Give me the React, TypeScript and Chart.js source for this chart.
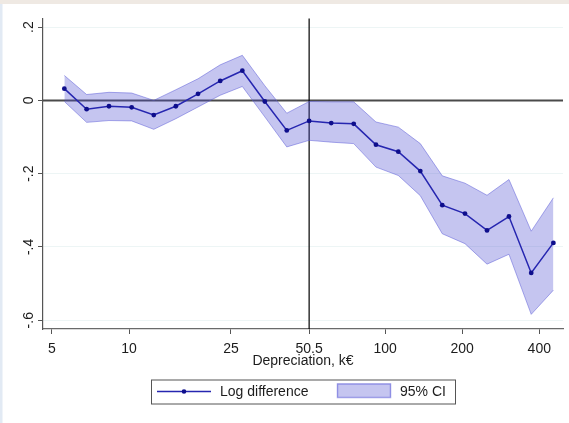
import React, { useEffect, useRef } from "react";
import { Chart, registerables } from "chart.js";

Chart.register(...registerables);

// Depreciation (k€), log scale
const xValues = [5.59, 6.83, 8.35, 10.24, 12.49, 15.23, 18.6, 22.7, 27.7, 33.9, 41.3, 50.5, 61.6, 75.4, 92.1, 112.6, 137.2, 167.2, 205, 250, 304.5, 372, 454];
const logDiff = [0.032, -0.024, -0.016, -0.019, -0.04, -0.016, 0.018, 0.053, 0.081, -0.003, -0.082, -0.056, -0.062, -0.064, -0.121, -0.14, -0.193, -0.286, -0.309, -0.355, -0.317, -0.471, -0.389];
const ciUpper = [0.068, 0.016, 0.022, 0.02, 0.0, 0.029, 0.059, 0.097, 0.123, 0.04, -0.035, -0.003, -0.004, -0.004, -0.059, -0.073, -0.118, -0.206, -0.226, -0.259, -0.216, -0.357, -0.266];
const ciLower = [-0.003, -0.06, -0.055, -0.056, -0.079, -0.05, -0.018, 0.014, 0.038, -0.045, -0.127, -0.109, -0.114, -0.118, -0.182, -0.205, -0.26, -0.364, -0.391, -0.447, -0.42, -0.584, -0.518];

const xTickValues = [5, 10, 25, 50.5, 100, 200, 400];
const xTickLabels = ["5", "10", "25", "50.5", "100", "200", "400"];
const yTickValues = [-0.6, -0.4, -0.2, 0, 0.2];
const yTickLabels = ["-.6", "-.4", "-.2", "0", ".2"];
const xTitle = "Depreciation, k€";
const lineLabel = "Log difference";
const bandLabel = "95% CI";
const xLineValue = 50.5;
const yLineValue = 0;

const FONT = '"Liberation Sans", Arial, Helvetica, sans-serif';
const TEXT = "#1c1c1c";
const LINE = "#2626b0";
const POINT = "#0e0e8c";
const BAND_FILL = "rgba(80,80,210,0.33)";
const BAND_EDGE = "rgba(90,90,215,0.5)";

export default function App() {
  const ref = useRef<HTMLCanvasElement | null>(null);

  useEffect(() => {
    document.body.style.margin = "0";
    const canvas = ref.current;
    if (!canvas) return;

    const custom = {
      id: "custom",
      beforeDraw(chart: any) {
        const ctx = chart.ctx;
        ctx.save();
        ctx.fillStyle = "#ffffff";
        ctx.fillRect(0, 0, chart.width, chart.height);
        ctx.fillStyle = "#efe9e3";
        ctx.fillRect(0, 0, chart.width, 4);
        ctx.fillStyle = "#e2eaf4";
        ctx.fillRect(0, 4, 2.5, chart.height - 4);
        ctx.restore();
      },
      beforeDatasetsDraw(chart: any) {
        const ctx = chart.ctx;
        const a = chart.chartArea;
        const xs = chart.scales.x;
        const ys = chart.scales.y;
        ctx.save();
        const y0 = ys.getPixelForValue(yLineValue);
        ctx.strokeStyle = "#4a4a4a";
        ctx.lineWidth = 2;
        ctx.beginPath();
        ctx.moveTo(a.left, y0);
        ctx.lineTo(a.right, y0);
        ctx.stroke();
        const x0 = xs.getPixelForValue(xLineValue);
        ctx.strokeStyle = "#000000";
        ctx.lineWidth = 1.2;
        ctx.beginPath();
        ctx.moveTo(x0, a.top);
        ctx.lineTo(x0, a.bottom);
        ctx.stroke();
        ctx.restore();
      },
      afterDraw(chart: any) {
        const ctx = chart.ctx;
        const a = chart.chartArea;
        const xs = chart.scales.x;
        const ys = chart.scales.y;
        ctx.save();
        ctx.fillStyle = TEXT;
        ctx.font = `14px ${FONT}`;
        // y tick labels, rotated
        yTickValues.forEach((v, i) => {
          const py = ys.getPixelForValue(v);
          ctx.save();
          ctx.translate(33, py);
          ctx.rotate(-Math.PI / 2);
          ctx.textAlign = "center";
          ctx.textBaseline = "alphabetic";
          ctx.fillText(yTickLabels[i], 0, 0);
          ctx.restore();
        });
        // x tick labels
        ctx.textAlign = "center";
        ctx.textBaseline = "alphabetic";
        xTickValues.forEach((v, i) => {
          const px = xs.getPixelForValue(v);
          ctx.fillText(xTickLabels[i], px, a.bottom + 23.5);
        });
        // x title
        ctx.fillText(xTitle, (a.left + a.right) / 2, a.bottom + 36);
        // legend
        const lx = 151, ly = 379.5, lw = 304, lh = 24;
        ctx.fillStyle = "#ffffff";
        ctx.fillRect(lx, ly, lw, lh);
        ctx.strokeStyle = "#555555";
        ctx.lineWidth = 1;
        ctx.strokeRect(lx + 0.5, ly + 0.5, lw, lh);
        const cy = ly + 12;
        ctx.strokeStyle = LINE;
        ctx.lineWidth = 1.5;
        ctx.beginPath();
        ctx.moveTo(157, cy);
        ctx.lineTo(211, cy);
        ctx.stroke();
        ctx.fillStyle = POINT;
        ctx.beginPath();
        ctx.arc(184, cy, 2.3, 0, Math.PI * 2);
        ctx.fill();
        ctx.fillStyle = TEXT;
        ctx.textAlign = "left";
        ctx.textBaseline = "middle";
        ctx.fillText(lineLabel, 220, cy + 0.5);
        ctx.fillStyle = BAND_FILL;
        ctx.fillRect(337, 383.5, 54, 14);
        ctx.strokeStyle = BAND_EDGE;
        ctx.strokeRect(337.5, 384, 53, 13.5);
        ctx.fillStyle = TEXT;
        ctx.fillText(bandLabel, 400, cy + 0.5);
        ctx.restore();
      },
    };

    const chart = new Chart(canvas, {
      type: "line",
      data: {
        datasets: [
          {
            label: "CI lower",
            data: xValues.map((x, i) => ({ x, y: ciLower[i] })),
            borderColor: BAND_EDGE,
            borderWidth: 1,
            pointRadius: 0,
            fill: false,
            order: 2,
          },
          {
            label: bandLabel,
            data: xValues.map((x, i) => ({ x, y: ciUpper[i] })),
            borderColor: BAND_EDGE,
            borderWidth: 1,
            pointRadius: 0,
            backgroundColor: BAND_FILL,
            fill: "-1",
            order: 2,
          },
          {
            label: lineLabel,
            data: xValues.map((x, i) => ({ x, y: logDiff[i] })),
            borderColor: LINE,
            borderWidth: 1.5,
            pointRadius: 2.4,
            pointBackgroundColor: POINT,
            pointBorderWidth: 0,
            fill: false,
            order: 1,
          },
        ],
      } as any,
      options: {
        responsive: false,
        animation: false,
        events: [],
        layout: { padding: { left: 0, right: 6, top: 18.5, bottom: 0 } },
        plugins: { legend: { display: false }, tooltip: { enabled: false } },
        scales: {
          x: {
            type: "logarithmic",
            min: 4.614,
            max: 495,
            afterBuildTicks: (s: any) => {
              s.ticks = xTickValues.map((v) => ({ value: v }));
            },
            afterFit: (s: any) => {
              s.height = 94;
            },
            ticks: { display: false },
            grid: { drawOnChartArea: false, drawTicks: true, tickLength: 5, tickColor: "#555555", lineWidth: 1 },
            border: { color: "#6a6a6a", width: 1.3 },
          },
          y: {
            type: "linear",
            min: -0.624,
            max: 0.2235,
            afterBuildTicks: (s: any) => {
              s.ticks = yTickValues.map((v) => ({ value: v }));
            },
            afterFit: (s: any) => {
              s.width = 43;
            },
            ticks: { display: false },
            grid: { color: "#edf5f5", lineWidth: 1, drawTicks: true, tickLength: 5, tickColor: "#555555" },
            border: { color: "#555555", width: 1.2 },
          },
        },
      } as any,
      plugins: [custom],
    });

    return () => chart.destroy();
  }, []);

  return (
    <div style={{ width: 569, height: 423 }}>
      <canvas ref={ref} width={569} height={423} style={{ display: "block" }} />
    </div>
  );
}
